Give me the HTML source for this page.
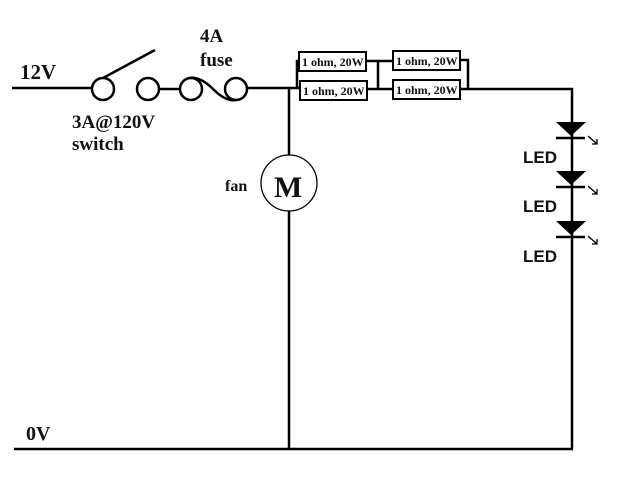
<!DOCTYPE html>
<html><head><style>
body{margin:0;background:#fff;}
svg{display:block;}
text{font-family:"Liberation Serif",serif;font-weight:bold;fill:#111;}
.s{font-family:"Liberation Sans",sans-serif;}
</style></head><body>
<svg width="620" height="479" viewBox="0 0 620 479">
<g stroke="#000" stroke-width="2.5" fill="none">
<line x1="12" y1="88" x2="92" y2="88"/>
<circle cx="103" cy="89" r="11"/>
<line x1="103" y1="78" x2="155" y2="50"/>
<circle cx="148" cy="89" r="11"/>
<line x1="159" y1="89" x2="179" y2="89"/>
<circle cx="191" cy="89" r="11"/>
<circle cx="236" cy="89" r="11"/>
<path d="M189 78 Q200 76 213 89 Q226 102 236 100"/>
<line x1="247" y1="88" x2="289" y2="88"/>
<line x1="289" y1="88" x2="289" y2="155"/>
<line x1="289" y1="211" x2="289" y2="449"/>
<line x1="289" y1="88" x2="299" y2="88"/>
<polyline points="297,88 297,61 299,61"/>
<polyline points="366,61 378,61 378,89"/>
<line x1="367" y1="89" x2="393" y2="89"/>
<line x1="378" y1="61" x2="393" y2="61"/>
<polyline points="460,60 468,60 468,89"/>
<polyline points="460,89 572,89 572,449"/>
<line x1="14" y1="449" x2="573" y2="449"/>
<line x1="556" y1="138" x2="585" y2="138"/>
<line x1="556" y1="187" x2="585" y2="187"/>
<line x1="556" y1="237" x2="585" y2="237"/>
</g>
<circle cx="289" cy="183" r="28" fill="#fff" stroke="#000" stroke-width="1.3"/>
<g fill="#fff" stroke="#000" stroke-width="2">
<rect x="299" y="52" width="67" height="19"/>
<rect x="300" y="81" width="67" height="19"/>
<rect x="393" y="51" width="67" height="19"/>
<rect x="393" y="80" width="67" height="19"/>
</g>
<g font-size="12">
<text x="302" y="66">1 ohm, 20W</text>
<text x="303" y="95">1 ohm, 20W</text>
<text x="396" y="65">1 ohm, 20W</text>
<text x="396" y="94">1 ohm, 20W</text>
</g>
<g fill="#000">
<polygon points="556,122 586,122 571,136"/>
<polygon points="556,171 586,171 571,185"/>
<polygon points="556,221 586,221 571,235"/>
</g>
<g stroke="#000" stroke-width="1.3" fill="none">
<path d="M588 136 L597 144 M597 139 L597 144 L592 144"/>
<path d="M588 186 L597 194 M597 189 L597 194 L592 194"/>
<path d="M588 236 L597 244 M597 239 L597 244 L592 244"/>
</g>
<g class="s" font-size="17">
<text class="s" x="523" y="163">LED</text>
<text class="s" x="523" y="212">LED</text>
<text class="s" x="523" y="262">LED</text>
</g>
<text x="274" y="197" font-size="30">M</text>
<text x="225" y="191" font-size="16">fan</text>
<text x="20" y="79" font-size="21">12V</text>
<text x="200" y="42" font-size="19">4A</text>
<text x="200" y="66" font-size="19">fuse</text>
<text x="72" y="128" font-size="19">3A@120V</text>
<text x="72" y="150" font-size="19">switch</text>
<text x="26" y="440" font-size="20">0V</text>
</svg>
</body></html>
